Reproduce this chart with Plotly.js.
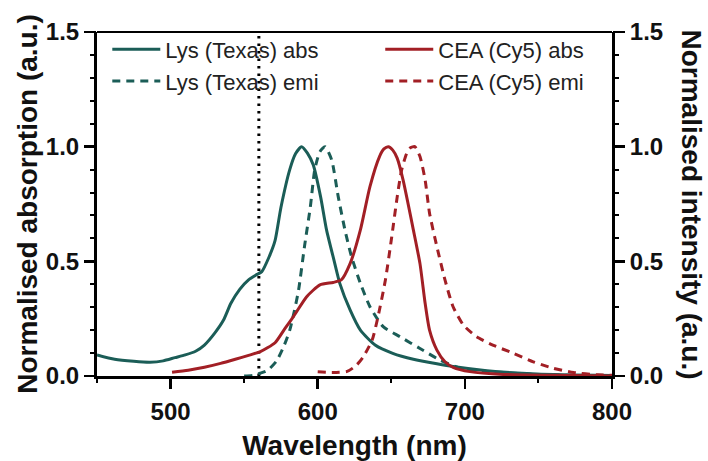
<!DOCTYPE html>
<html>
<head>
<meta charset="utf-8">
<script src="https://cdn.plot.ly/plotly-3.0.1.min.js"></script>
<style>
  html, body { margin: 0; padding: 0; background: #fff; }
  #chart { width: 708px; height: 461px; }
</style>
</head>
<body>
<div id="chart"></div>
<script>
// Normalised absorption / emission spectra of the two dye labels
const lysAbsNm = [450, 462, 475, 486, 495, 503, 510, 517, 523, 530, 536, 541, 547, 553, 558, 562, 567, 571, 575, 581, 585, 589, 593, 597, 602, 606, 611, 615, 622, 629, 639, 651, 665, 681, 692, 715, 749, 800];
const lysAbs   = [0.092, 0.073, 0.064, 0.060, 0.066, 0.080, 0.092, 0.108, 0.135, 0.187, 0.244, 0.317, 0.378, 0.419, 0.440, 0.455, 0.520, 0.590, 0.735, 0.900, 0.970, 1.000, 0.972, 0.920, 0.780, 0.637, 0.506, 0.404, 0.288, 0.200, 0.135, 0.099, 0.073, 0.053, 0.041, 0.023, 0.009, 0.002];

const lysEmiNm = [550, 556, 561, 566, 572, 577, 581, 584, 587, 591, 595, 598, 601.5, 605, 609.5, 614, 618.5, 623, 629, 635.5, 644.5, 656, 669.5, 683, 697, 715, 749, 800];
const lysEmi   = [0.000, 0.003, 0.012, 0.025, 0.065, 0.130, 0.200, 0.280, 0.375, 0.564, 0.738, 0.900, 0.978, 1.000, 0.942, 0.780, 0.637, 0.520, 0.404, 0.302, 0.215, 0.171, 0.120, 0.070, 0.034, 0.020, 0.007, 0.000];

const ceaAbsNm = [501, 512, 523, 534, 544, 553, 561, 571, 577, 583.5, 592.5, 601.5, 610.5, 616, 622, 629, 635.5, 642, 645, 648, 651, 654, 658, 665, 669.5, 673, 676, 681, 686.5, 692, 703.5, 726, 760, 800];
const ceaAbs   = [0.016, 0.025, 0.038, 0.055, 0.073, 0.090, 0.106, 0.145, 0.200, 0.259, 0.346, 0.397, 0.408, 0.419, 0.490, 0.637, 0.826, 0.957, 0.990, 1.000, 0.985, 0.950, 0.855, 0.637, 0.490, 0.317, 0.200, 0.113, 0.062, 0.038, 0.019, 0.007, 0.003, 0.000];

const ceaEmiNm = [600, 610, 620, 626, 631, 637, 641, 646, 650, 654, 657, 660.5, 663, 666, 669.5, 673, 676, 681, 686.5, 692, 699, 708, 719, 733, 746.5, 760, 774, 790, 800];
const ceaEmi   = [0.018, 0.015, 0.020, 0.045, 0.084, 0.157, 0.259, 0.419, 0.593, 0.780, 0.898, 0.971, 0.995, 1.000, 0.957, 0.855, 0.710, 0.564, 0.419, 0.302, 0.222, 0.171, 0.135, 0.099, 0.062, 0.034, 0.015, 0.005, 0.003];

const seriesNames = ['Lys (Texas) abs', 'Lys (Texas) emi', 'CEA (Cy5) abs', 'CEA (Cy5) emi'];
const excitationNm = 560;

const teal = '#1b5d57';
const red = '#a21f25';
const fontFamily = 'Liberation Sans, Arial, sans-serif';

function spectrum(x, y, name, color, dash, legend) {
  return {
    x: x, y: y, name: name, type: 'scatter', mode: 'lines',
    line: { color: color, width: 3, dash: dash, shape: 'spline', smoothing: 0.6 },
    legend: legend, hoverinfo: 'skip'
  };
}

const traces = [
  spectrum(lysAbsNm, lysAbs, seriesNames[0], teal, 'solid', 'legend'),
  spectrum(lysEmiNm, lysEmi, seriesNames[1], teal, '8px,6px', 'legend'),
  spectrum(ceaAbsNm, ceaAbs, seriesNames[2], red, 'solid', 'legend2'),
  spectrum(ceaEmiNm, ceaEmi, seriesNames[3], red, '8px,6px', 'legend2')
];

// empty traces that attach the extra (tick-only) axes to the plot
[['x2', 'y'], ['x', 'y2'], ['x', 'y3'], ['x', 'y4']].forEach(function (pair) {
  traces.push({ x: [450], y: [0], xaxis: pair[0], yaxis: pair[1], type: 'scatter', mode: 'lines',
    showlegend: false, hoverinfo: 'skip', line: { width: 0 } });
});

const tickFont = { family: fontFamily, size: 24, color: '#111', weight: 'bold' };
const legendFont = { family: fontFamily, size: 22, color: '#222' };
const titleFont = { family: fontFamily, size: 28, color: '#111', weight: 'bold' };

const yMajor = {
  range: [0, 1.5], tickmode: 'linear', tick0: 0, dtick: 0.5, tickformat: '.1f',
  ticks: 'outside', ticklen: 10, tickwidth: 2.5, tickcolor: '#000',
  showline: true, linewidth: 3, linecolor: '#000',
  showgrid: false, zeroline: false, tickfont: tickFont, fixedrange: true
};
const yMinor = {
  range: [0, 1.5], tickmode: 'linear', tick0: 0, dtick: 0.1,
  ticks: 'outside', ticklen: 6, tickwidth: 2, tickcolor: '#000',
  showticklabels: false, showline: false, showgrid: false, zeroline: false, fixedrange: true
};

const layout = {
  width: 708, height: 461,
  margin: { l: 97, r: 96, t: 32, b: 85 },
  paper_bgcolor: '#fff', plot_bgcolor: '#fff',
  showlegend: true,
  xaxis: {
    range: [450, 800], tickmode: 'linear', tick0: 0, dtick: 100,
    ticks: 'outside', ticklen: 10, tickwidth: 2.5, tickcolor: '#000',
    showline: true, linewidth: 3, linecolor: '#000', ticklabelstandoff: 2,
    showgrid: false, zeroline: false, tickfont: tickFont,
    title: { text: 'Wavelength (nm)', font: titleFont, standoff: 17 }
  },
  xaxis2: {
    range: [450, 800], overlaying: 'x', side: 'bottom', tickmode: 'linear', tick0: 50, dtick: 100,
    ticks: 'outside', ticklen: 6, tickwidth: 2, tickcolor: '#000',
    showticklabels: false, showline: false, showgrid: false, zeroline: false
  },
  yaxis: Object.assign({}, yMajor, {
    side: 'left',
    title: { text: 'Normalised absorption (a.u.)', font: titleFont, standoff: 1 }
  }),
  yaxis2: Object.assign({}, yMajor, { side: 'right', overlaying: 'y' }),
  yaxis3: Object.assign({}, yMinor, { side: 'left', overlaying: 'y' }),
  yaxis4: Object.assign({}, yMinor, { side: 'right', overlaying: 'y' }),
  legend: {
    x: 0.02, y: 1.01, xanchor: 'left', yanchor: 'top',
    bgcolor: 'rgba(0,0,0,0)', borderwidth: 0, font: legendFont,
    itemwidth: 48, tracegroupgap: 0
  },
  legend2: {
    x: 0.55, y: 1.01, xanchor: 'left', yanchor: 'top',
    bgcolor: 'rgba(0,0,0,0)', borderwidth: 0, font: legendFont,
    itemwidth: 48, tracegroupgap: 0
  },
  shapes: [
    { type: 'line', xref: 'x', yref: 'y', x0: excitationNm, x1: excitationNm, y0: 0, y1: 1.5,
      line: { color: '#000', width: 3, dash: '2.5px,5px' }, layer: 'below' },
    { type: 'line', xref: 'paper', yref: 'paper', x0: 0, x1: 1, y0: 1, y1: 1,
      line: { color: '#000', width: 2 } }
  ],
  annotations: [
    { text: 'Normalised intensity (a.u.)', xref: 'paper', yref: 'paper', x: 1, y: 0.5,
      xanchor: 'left', yanchor: 'middle', xshift: 62, textangle: 90, showarrow: false,
      font: titleFont }
  ]
};

Plotly.newPlot('chart', traces, layout, { staticPlot: true, displayModeBar: false });
</script>
</body>
</html>
